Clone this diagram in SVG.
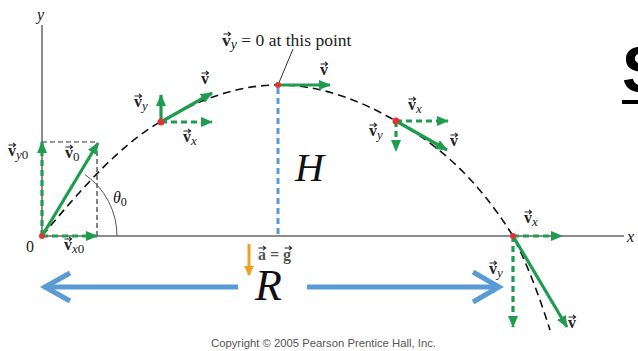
<svg xmlns="http://www.w3.org/2000/svg" width="638" height="351" viewBox="0 0 638 351">
<style>
.ax{stroke:#666;stroke-width:1.5;fill:none}
.traj{stroke:#111;stroke-width:1.6;fill:none;stroke-dasharray:8 5}
.gs{stroke:#1f9d4f;stroke-width:3.2;fill:none}
.gd{stroke:#1f9d4f;stroke-width:3.2;fill:none;stroke-dasharray:6 4}
.box{stroke:#333;stroke-width:1.2;fill:none;stroke-dasharray:5 3}
.dot{fill:#e03333}
.lbl{font-family:"Liberation Serif",serif;font-size:16px;fill:#222}
.v{font-family:"Liberation Serif",serif;font-size:16px;font-weight:bold;fill:#222}
.sub{font-weight:normal;font-style:italic;font-size:13px}
.sub0{font-weight:normal;font-size:13px}
.it{font-family:"Liberation Serif",serif;font-style:italic;fill:#111}
.blue{stroke:#5b9bd5;stroke-width:5;fill:none}
</style>
<defs>
<marker id="ga" markerUnits="userSpaceOnUse" markerWidth="12" markerHeight="10" refX="11" refY="5" orient="auto">
<path d="M0,0 L12,5 L0,10 z" fill="#1f9d4f"/>
</marker>
<marker id="oa" markerUnits="userSpaceOnUse" markerWidth="10" markerHeight="10" refX="9" refY="5" orient="auto">
<path d="M0,0 L10,5 L0,10 z" fill="#f0a020"/>
</marker>
<path id="arw" d="M0.5,0 H7.5 M5,-2.2 L7.6,0 L5,2.2" stroke="#222" stroke-width="1.1" fill="none"/>
</defs>

<g id="axes">
<line class="ax" x1="42" y1="25" x2="42" y2="236"/>
<line class="ax" x1="42" y1="236" x2="624" y2="236"/>
<text class="it" x="37" y="20" font-size="16">y</text>
<text class="it" x="627" y="242" font-size="16">x</text>
<text class="lbl" x="26" y="252">0</text>
</g>

<g id="connectors">
<path class="traj" d="M42,236 C82,188 120,145 160,122 C200,99 238,85 278,85 C318,85 356,98 396,121 C436,144 474,174 513,236 C528,266 540,298 550,330"/>
<path class="box" d="M42,142 H97 V236"/>
<path d="M117,236 A75,75 0 0 0 85,174.6" stroke="#555" stroke-width="1" fill="none"/>
<line x1="278" y1="88" x2="278" y2="236" stroke="#5b9bd5" stroke-width="3" stroke-dasharray="6 4"/>
<line x1="278" y1="85" x2="293" y2="49" stroke="#333" stroke-width="1"/>
<line x1="249" y1="244" x2="249" y2="275" stroke="#f0a020" stroke-width="3" marker-end="url(#oa)"/>
<line class="blue" x1="44" y1="287" x2="238" y2="287"/>
<polyline class="blue" points="70,273 45,287 70,301" stroke-width="6"/>
<line class="blue" x1="307" y1="287" x2="499" y2="287"/>
<polyline class="blue" points="473,272 499,287 473,302" stroke-width="6"/>
</g>

<g id="start">
<line class="gd" x1="42" y1="236" x2="42" y2="142" marker-end="url(#ga)"/>
<line class="gd" x1="42" y1="236" x2="97" y2="236" marker-end="url(#ga)"/>
<line class="gs" x1="42" y1="236" x2="98" y2="143" marker-end="url(#ga)"/>
<circle class="dot" cx="42" cy="236" r="3"/>
<text class="v" x="8" y="156">v<tspan class="sub" dy="3">y</tspan><tspan class="sub0">0</tspan></text>
<use href="#arw" x="8" y="145"/>
<text class="v" x="65" y="158">v<tspan class="sub0" dy="3">0</tspan></text>
<use href="#arw" x="65" y="147"/>
<text class="v" x="64" y="250">v<tspan class="sub" dy="3">x</tspan><tspan class="sub0">0</tspan></text>
<use href="#arw" x="64" y="239"/>
<text class="it" x="113" y="203" font-size="16">θ<tspan font-style="normal" font-size="12" dy="3">0</tspan></text>
</g>

<g id="rising">
<line class="gs" x1="161" y1="122" x2="161" y2="95" marker-end="url(#ga)"/>
<line class="gd" x1="161" y1="122" x2="212" y2="122" marker-end="url(#ga)"/>
<line class="gs" x1="161" y1="122" x2="212" y2="93" marker-end="url(#ga)"/>
<circle class="dot" cx="161" cy="122" r="3.5"/>
<text class="v" x="134" y="107">v<tspan class="sub" dy="3">y</tspan></text>
<use href="#arw" x="134" y="96"/>
<text class="v" x="201" y="84">v</text>
<use href="#arw" x="201" y="73"/>
<text class="v" x="183" y="142">v<tspan class="sub" dy="3">x</tspan></text>
<use href="#arw" x="183" y="131"/>
</g>

<g id="apex">
<line class="gs" x1="278" y1="85" x2="330" y2="85" marker-end="url(#ga)"/>
<circle class="dot" cx="278" cy="85" r="3"/>
<text class="v" x="320" y="75">v</text>
<use href="#arw" x="320" y="64"/>
<text class="lbl" x="222" y="46" style="font-size:17.5px"><tspan font-weight="bold">v</tspan><tspan class="sub" dy="3" style="font-size:14px">y</tspan><tspan dy="-3"> = 0 at this point</tspan></text>
<use href="#arw" x="223" y="34"/>
<text class="it" x="295" y="181" font-size="40">H</text>
</g>

<g id="falling">
<line class="gd" x1="396" y1="121" x2="448" y2="121" marker-end="url(#ga)"/>
<line class="gd" x1="396" y1="121" x2="396" y2="151" marker-end="url(#ga)"/>
<line class="gs" x1="396" y1="121" x2="447" y2="150" marker-end="url(#ga)"/>
<circle class="dot" cx="396" cy="121" r="3.5"/>
<text class="v" x="408" y="110">v<tspan class="sub" dy="3">x</tspan></text>
<use href="#arw" x="408" y="99"/>
<text class="v" x="369" y="136">v<tspan class="sub" dy="3">y</tspan></text>
<use href="#arw" x="369" y="125"/>
<text class="v" x="450" y="146">v</text>
<use href="#arw" x="450" y="135"/>
</g>

<g id="landing">
<line class="gd" x1="513" y1="236" x2="562" y2="236" marker-end="url(#ga)"/>
<line class="gd" x1="513" y1="236" x2="513" y2="327" marker-end="url(#ga)"/>
<line class="gs" x1="513" y1="236" x2="567" y2="327" marker-end="url(#ga)"/>
<circle class="dot" cx="513" cy="236" r="3"/>
<text class="v" x="524" y="223">v<tspan class="sub" dy="3">x</tspan></text>
<use href="#arw" x="524" y="212"/>
<text class="v" x="489" y="274">v<tspan class="sub" dy="3">y</tspan></text>
<use href="#arw" x="489" y="263"/>
<text class="v" x="568" y="328">v</text>
<use href="#arw" x="568" y="317"/>
</g>

<g id="labels">
<text x="258" y="260" font-family="Liberation Serif,serif" font-size="16" font-weight="bold" fill="#555">a = g</text>
<use href="#arw" x="258" y="248"/>
<use href="#arw" x="284" y="248"/>
<text class="it" x="255" y="300" font-size="44">R</text>
<text x="211" y="347" font-family="Liberation Sans,Arial,sans-serif" font-size="11.3" fill="#555">Copyright © 2005 Pearson Prentice Hall, Inc.</text>
<text x="622" y="92" font-family="Liberation Sans,Arial,sans-serif" font-size="64" font-weight="bold" fill="#000">S</text>
<rect x="622" y="100" width="16" height="4" fill="#000"/>
</g>
</svg>
